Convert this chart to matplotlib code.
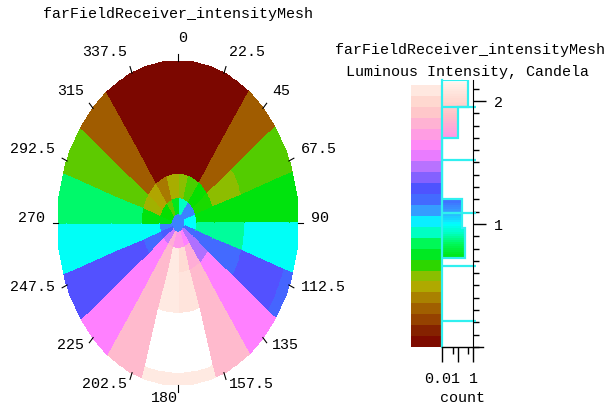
import numpy as np
import matplotlib
matplotlib.use("Agg")
import matplotlib.pyplot as plt
from matplotlib.colors import LinearSegmentedColormap, Normalize
from matplotlib.ticker import FixedLocator, NullFormatter, MultipleLocator
from matplotlib.transforms import offset_copy

plt.rcParams["font.family"] = ["Liberation Mono", "DejaVu Sans Mono"]
plt.rcParams["font.size"] = 10.8

mesh_title = "farFieldReceiver_intensityMesh"
quantity_label = "Luminous Intensity, Candela"
count_label = "count"

# Angular sectors (degrees, clockwise from top) and radial ring edges
sector_edges = np.arange(0, 361, 18)
ring_edges = [0.0, 0.06, 0.16, 0.31, 0.56, 0.93, 1.0]

# Intensity per ring (inner to outer), one value per 18-degree sector
ring_core = [1.15, 1.15, 1.15, 1.15, 1.15, 1.15, 1.15, 1.15, 1.15, 1.15,
             1.15, 1.15, 1.15, 1.15, 1.15, 1.15, 1.15, 1.15, 1.15, 1.15]
ring_center = [0.93, 0.93, 1.15, 1.15, 1.00, 1.00, 1.20, 1.45, 1.60, 1.70,
               1.70, 1.80, 1.50, 1.25, 1.15, 0.72, 0.70, 0.70, 0.62, 0.75]
ring_inner = [0.58, 0.64, 0.70, 0.68, 0.72, 0.90, 1.20, 1.45, 1.80, 2.02,
              2.10, 1.85, 1.60, 1.20, 0.99, 0.72, 0.52, 0.48, 0.38, 0.50]
ring_mid = [0.03, 0.03, 0.30, 0.57, 0.72, 0.90, 1.20, 1.60, 1.85, 2.06,
            2.10, 1.85, 1.60, 1.30, 0.99, 0.86, 0.62, 0.30, 0.03, 0.03]
ring_outer = [0.03, 0.03, 0.30, 0.63, 0.72, 0.99, 1.30, 1.60, 1.85, 2.30,
              2.30, 1.85, 1.60, 1.30, 0.99, 0.86, 0.62, 0.30, 0.03, 0.03]
ring_rim = [0.03, 0.03, 0.30, 0.63, 0.72, 0.99, 1.22, 1.60, 1.85, 2.10,
            2.10, 1.85, 1.60, 1.30, 0.99, 0.86, 0.62, 0.30, 0.03, 0.03]
rings = [ring_core, ring_center, ring_inner, ring_mid, ring_outer, ring_rim]

angle_ticks = [0, 22.5, 45, 67.5, 90, 112.5, 135, 157.5,
               180, 202.5, 225, 247.5, 270, 292.5, 315, 337.5]
angle_labels = ["0", "22.5", "45", "67.5", "90", "112.5", "135", "157.5",
                "180", "202.5", "225", "247.5", "270", "292.5", "315", "337.5"]

# Histogram of cell intensities (fraction of cells per bin)
hist_edges = [0.72, 0.97, 1.20, 1.70, 1.95, 2.17]
hist_counts = [0.30, 0.19, 0.0, 0.107, 0.48]
coarse_edges = [0.21, 0.66, 1.09, 1.52, 1.95]

vmin, vmax = 0.0, 2.16
cbar_top = 2.13

# Colour scale
stops = [(0.00, "#7a0000"), (0.12, "#842000"), (0.26, "#9c5000"),
         (0.38, "#a87800"), (0.48, "#b0a800"), (0.58, "#88c000"),
         (0.70, "#00e000"), (0.84, "#00f858"), (0.93, "#00ffc0"),
         (1.00, "#00ffff"), (1.08, "#30b0ff"), (1.18, "#4070ff"),
         (1.30, "#5050ff"), (1.45, "#b070ff"), (1.60, "#ff80ff"),
         (1.75, "#ffa0e0"), (1.88, "#ffc0c8"), (2.00, "#ffd8d0"),
         (2.16, "#fff4ec")]
cmap = LinearSegmentedColormap.from_list(
    "intensity", [(v / vmax, c) for v, c in stops], N=256
).with_extremes(over="white")
norm = Normalize(vmin, vmax)

W, H = 608, 410
fig = plt.figure(figsize=(W / 100, H / 100), dpi=100)


def frac(x0, y0, x1, y1):
    return [x0 / W, 1 - y1 / H, (x1 - x0) / W, (y1 - y0) / H]


# ---- polar intensity mesh (stretched vertically) ----
ax = fig.add_axes(frac(58, 62, 298, 386))
ax.set_xlim(-1, 1)
ax.set_ylim(-1, 1)
ax.axis("off")

sub = 10
n_sec = len(sector_edges) - 1
theta = np.deg2rad(np.linspace(sector_edges[0], sector_edges[-1], n_sec * sub + 1))
T, R = np.meshgrid(theta, ring_edges)
X = R * np.sin(T)
Y = R * np.cos(T)
C = np.repeat(np.array(rings), sub, axis=1)
ax.pcolormesh(X, Y, C, cmap=cmap, norm=norm, shading="flat",
              edgecolors="face", linewidth=0.3)

lab_tr = offset_copy(ax.transData, fig=fig, x=0, y=6, units="dots")
for ang, lab in zip(angle_ticks, angle_labels):
    t = np.deg2rad(ang)
    s, c = np.sin(t), np.cos(t)
    ax.plot([s, 1.045 * s], [c, 1.045 * c], color="black", lw=0.8, clip_on=False)
    ax.text(1.11 * s, 1.11 * c, lab, ha="left" if ang < 180 else "right",
            va="center", transform=lab_tr)

fig.text(178 / W, 1 - 14 / H, mesh_title, ha="center", va="center")

# ---- colour bar strip ----
cax = fig.add_axes(frac(411, 81, 442, 348))
cax.set_ylim(vmin, 2.17)
cax.set_xlim(0, 1)
cax.axis("off")
band_edges = np.linspace(vmin, cbar_top, 25)
band_mid = 0.5 * (band_edges[1:] + band_edges[:-1])
cax.pcolormesh([0, 1], band_edges, band_mid[:, None], cmap=cmap, norm=norm)

# ---- histogram ----
cyan = "#30f0f0"
hax = fig.add_axes(frac(442, 81, 483, 348))
hax.set_xscale("log")
hax.set_xlim(0.01, 4.4)
hax.set_ylim(vmin, 2.17)
hax.patch.set_alpha(0)

for lo, hi, cnt in zip(hist_edges[:-1], hist_edges[1:], hist_counts):
    if cnt > 0:
        yy = np.linspace(lo, hi, 16)
        hax.pcolormesh([0.01, cnt], yy, (0.5 * (yy[1:] + yy[:-1]))[:, None],
                       cmap=cmap, norm=norm)
hax.stairs(np.maximum(hist_counts, 0.01), hist_edges, orientation="horizontal",
           baseline=0.01, color=cyan, lw=1.6)
hax.hlines(coarse_edges, 0.01, 1.55, colors=cyan, lw=1.6)

hax.spines["top"].set_visible(False)
hax.spines["left"].set_color(cyan)
hax.spines["left"].set_linewidth(1.6)
hax.spines["right"].set_position(("data", 1))
hax.spines["bottom"].set_linewidth(1.0)

hax.yaxis.tick_right()
hax.yaxis.set_major_locator(FixedLocator([1, 2]))
hax.yaxis.set_minor_locator(MultipleLocator(0.1))
hax.tick_params(axis="y", which="major", length=9, width=1, pad=6)
hax.tick_params(axis="y", which="minor", length=4, width=1)

hax.xaxis.set_major_locator(FixedLocator([0.01, 0.1, 1]))
hax.set_xticklabels(["0.01", "", "1"])
hax.xaxis.set_minor_locator(FixedLocator([0.05, 0.5]))
hax.xaxis.set_minor_formatter(NullFormatter())
hax.tick_params(axis="x", which="major", length=11, width=1, pad=6)
hax.tick_params(axis="x", which="minor", length=5, width=1)
hax.set_xlabel(count_label, labelpad=4)

fig.text(470 / W, 1 - 50 / H, mesh_title, ha="center", va="center")
fig.text(468 / W, 1 - 72 / H, quantity_label, ha="center", va="center")

fig.savefig("out.png", dpi=100)
